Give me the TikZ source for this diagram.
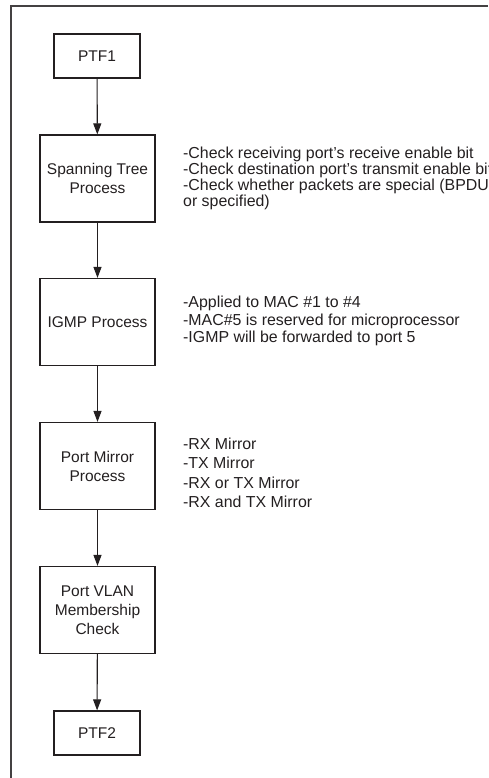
\documentclass[tikz,border=0pt]{standalone}
\usepackage{fontspec}
\setmainfont{Liberation Sans}
\usepackage{tikz}
\usetikzlibrary{arrows.meta}
\definecolor{ink}{HTML}{231F20}

\tikzset{
  stage/.style={draw=ink, line width=1.2pt, align=center, text=ink,
    minimum width=115pt, minimum height=87pt, inner sep=0pt,
    font=\fontsize{15.5}{19}\selectfont},
  ptf/.style={stage, minimum width=86pt, minimum height=44pt},
  note/.style={anchor=north west, align=left, inner sep=0pt, text=ink},
  flow/.style={draw=ink, line width=1.1pt, -{Triangle[length=11pt,width=8pt]}}
}

\begin{document}
\begin{tikzpicture}[x=1pt,y=-1pt]
\useasboundingbox (0,0) rectangle (488,778) ;
\draw [ink!85, line width=1.3pt] (488,6) -- (11,6) -- (11,778) ;
% stages
\node [ptf] (ptfa) at (97,56) {PTF1} ;
\node [stage] (stp) at (97.5,178.5) {Spanning Tree\\Process} ;
\node [stage] (igmp) at (97.5,322) {IGMP Process} ;
\node [stage] (mir) at (97.5,466) {Port Mirror\\Process} ;
\node [stage] (vlan) at (97.5,610) {Port VLAN\\Membership\\Check} ;
\node [ptf] (ptfb) at (97,733) {PTF2} ;
\draw [flow] (ptfa) -- (stp) ;
\draw [flow] (stp) -- (igmp) ;
\draw [flow] (igmp) -- (mir) ;
\draw [flow] (mir) -- (vlan) ;
\draw [flow] (vlan) -- (ptfb) ;
% notes
\node [note, font=\fontsize{15.9}{16}\selectfont] (stpnote) at (183,147)
  {-Check receiving port's receive enable bit\\
   -Check destination port's transmit enable bit\\
   -Check whether packets are special (BPDU\\
   or specified)} ;
\node [note, font=\fontsize{15.9}{17.5}\selectfont] (igmpnote) at (183,296)
  {-Applied to MAC \#1 to \#4\\
   -MAC\#5 is reserved for microprocessor\\
   -IGMP will be forwarded to port 5} ;
\node [note, font=\fontsize{15.9}{19.2}\selectfont] (mirnote) at (183,438)
  {-RX Mirror\\
   -TX Mirror\\
   -RX or TX Mirror\\
   -RX and TX Mirror} ;
\end{tikzpicture}
\end{document}
